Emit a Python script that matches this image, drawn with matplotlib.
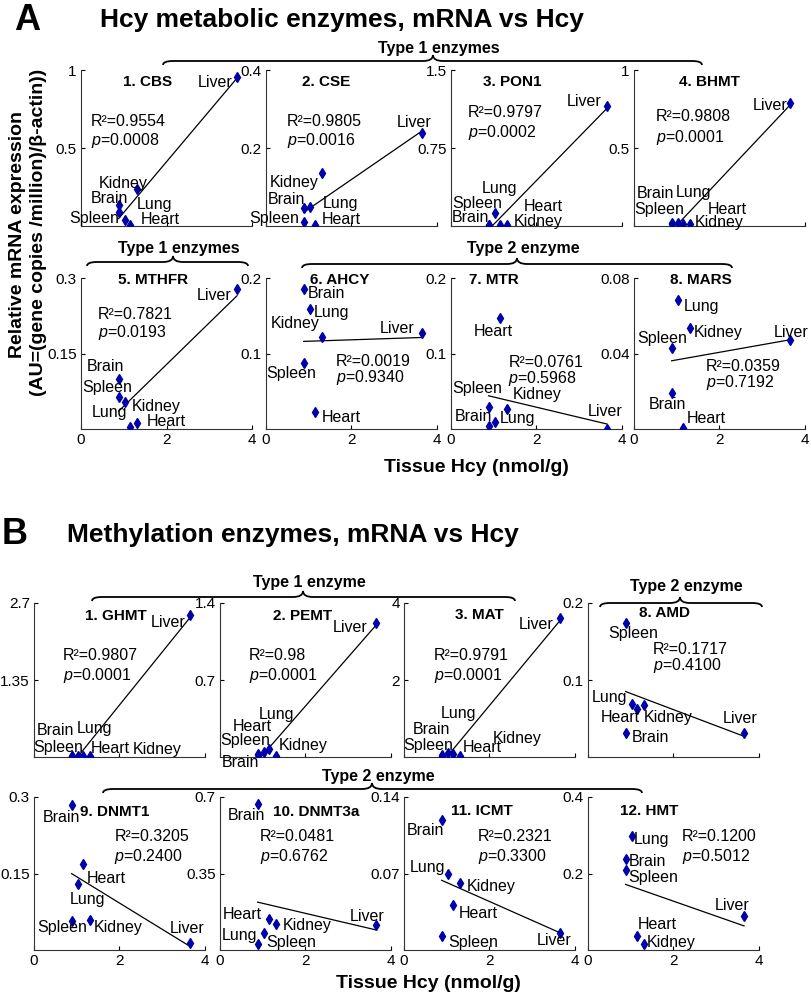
import numpy as np
import matplotlib
matplotlib.use('Agg')
import matplotlib.pyplot as plt
from matplotlib.path import Path
from matplotlib.patches import PathPatch

plt.rcParams['font.family'] = ['Liberation Sans', 'DejaVu Sans']
plt.rcParams['mathtext.fontset'] = 'custom'
plt.rcParams['mathtext.rm'] = 'Liberation Sans'
plt.rcParams['mathtext.it'] = 'Liberation Sans:italic'

# ---- data (tissue Hcy vs relative mRNA) ----
tissues = ['Brain', 'Spleen', 'Lung', 'Heart', 'Kidney', 'Liver']
hcy = [0.9, 0.88, 1.02, 1.15, 1.3, 3.65]

cbs = [0.135, 0.09, 0.04, 0.005, 0.237, 0.955]
cse = [0.046, 0.01, 0.049, 0.003, 0.136, 0.238]
pon1 = [0.01, 0.01, 0.125, 0.01, 0.01, 1.154]
bhmt = [0.02, 0.015, 0.02, 0.01, 0.015, 0.79]
mthfr = [0.1, 0.064, 0.054, 0.004, 0.012, 0.278]
ahcy = [0.185, 0.088, 0.159, 0.022, 0.122, 0.127]
mtr = [0.004, 0.029, 0.009, 0.147, 0.026, 0.0]
mars = [0.019, 0.043, 0.0684, 0.0005, 0.0535, 0.047]
ghmt = [0.02, 0.02, 0.02, 0.02, 0.02, 2.49]
pemt = [0.02, 0.03, 0.05, 0.07, 0.01, 1.22]
mat = [0.02, 0.05, 0.1, 0.08, 0.02, 3.61]
amd = [0.031, 0.174, 0.069, 0.062, 0.067, 0.031]
dnmt1 = [0.284, 0.057, 0.129, 0.169, 0.059, 0.014]
dnmt3a = [0.668, 0.027, 0.078, 0.142, 0.119, 0.114]
icmt = [0.119, 0.013, 0.070, 0.041, 0.061, 0.016]
hmt = [0.238, 0.209, 0.298, 0.037, 0.016, 0.089]

names = ['1. CBS', '2. CSE', '3. PON1', '4. BHMT', '5. MTHFR', '6. AHCY', '7. MTR', '8. MARS',
         '1. GHMT', '2. PEMT', '3. MAT', '8. AMD', '9. DNMT1', '10. DNMT3a', '11. ICMT', '12. HMT']
values = [cbs, cse, pon1, bhmt, mthfr, ahcy, mtr, mars,
          ghmt, pemt, mat, amd, dnmt1, dnmt3a, icmt, hmt]
r2 = ['0.9554', '0.9805', '0.9797', '0.9808', '0.7821', '0.0019', '0.0761', '0.0359',
      '0.9807', '0.98', '0.9791', '0.1717', '0.3205', '0.0481', '0.2321', '0.1200']
pval = ['0.0008', '0.0016', '0.0002', '0.0001', '0.0193', '0.9340', '0.5968', '0.7192',
        '0.0001', '0.0001', '0.0001', '0.4100', '0.2400', '0.6762', '0.3300', '0.5012']
ymax = [1, 0.4, 1.5, 1, 0.3, 0.2, 0.2, 0.08, 2.7, 1.4, 4, 0.2, 0.3, 0.7, 0.14, 0.4]
ylab_mid = ['0.5', '0.2', '0.75', '0.5', '0.15', '0.1', '0.1', '0.04',
            '1.35', '0.7', '2', '0.1', '0.15', '0.35', '0.07', '0.2']
ylab_top = ['1', '0.4', '1.5', '1', '0.3', '0.2', '0.2', '0.08',
            '2.7', '1.4', '4', '0.2', '0.3', '0.7', '0.14', '0.4']

# ---- layout (image pixels, top-left origin) ----
W, H = 812, 994
lefts_a = [81, 266, 451, 634]
lefts_b = [34, 220, 404, 588]
rows = [(70, 226), (278, 429), (603, 757), (797, 950)]
boxes = []
for r in range(4):
    ls = lefts_a if r < 2 else lefts_b
    for l in ls:
        boxes.append((l, rows[r][0], 171, rows[r][1] - rows[r][0]))
bottom_row = [False] * 4 + [True] * 4 + [False] * 4 + [True] * 4

title_pos = [(0.39, 0.92), (0.35, 0.92), (0.36, 0.92), (0.44, 0.92),
             (0.42, 0.99), (0.43, 0.99), (0.25, 0.99), (0.39, 0.99),
             (0.48, 0.915), (0.48, 0.915), (0.44, 0.92), (0.45, 0.935),
             (0.47, 0.90), (0.56, 0.90), (0.455, 0.91), (0.36, 0.91)]
# (x, y of R2 line, y of p line) in axes fraction
stat_pos = [(0.058, 0.667, 0.551), (0.123, 0.667, 0.551), (0.10, 0.73, 0.60), (0.129, 0.70, 0.57),
            (0.10, 0.755, 0.64), (0.41, 0.45, 0.344), (0.335, 0.44, 0.335), (0.42, 0.415, 0.31),
            (0.169, 0.656, 0.526), (0.169, 0.656, 0.526), (0.175, 0.656, 0.526), (0.378, 0.695, 0.595),
            (0.47, 0.74, 0.61), (0.233, 0.74, 0.61), (0.43, 0.74, 0.61), (0.55, 0.74, 0.61)]
# label offsets in pixels, tissue order Brain, Spleen, Lung, Heart, Kidney, Liver
label_off = [
    [(-10, 6), (-24, -7), (30, 15), (30, 6), (-13, 6), (-22, -5)],
    [(-18, 9), (-29, 4), (31, 3), (26, 5), (-27, -10), (-8, 11)],
    [(-19, 7), (-11, 21), (5, 24), (43, 18), (32, 3), (-23, 4)],
    [(-17, 29), (-12, 14), (16, 30), (44, 15), (30, 1), (-20, -3)],
    [(-14, 12), (-11, 9), (-15, -11), (36, 5), (20, 16), (-23, -6)],
    [(22, -4), (-12, -11), (22, -4), (26, -5), (-26, 13), (-25, 5)],
    [(-16, 9), (-11, 19), (23, 4), (-7, -13), (31, 15), (-2, 18)],
    [(-5, -11), (-9, 9), (24, -7), (23, 10), (29, -4), (1, 8)],
    [(-17, 25), (-13, 8), (17, 27), (27, 7), (68, 6), (-22, -8)],
    [(-18, -8), (-12, 13), (13, 37), (-17, 23), (28, 10), (-26, -5)],
    [(-11, 27), (-13, 10), (11, 40), (29, 6), (58, 18), (-24, -6)],
    [(24, -4), (8, -10), (-22, 6), (-17, -8), (25, -12), (-4, 15)],
    [(-11, -12), (-9, -7), (10, -15), (23, -15), (29, -8), (-3, 14)],
    [(-12, -12), (34, 2), (-24, -3), (-27, 4), (32, -2), (-9, 9)],
    [(-17, -11), (32, -7), (-20, 6), (25, -8), (32, -3), (-6, -8)],
    [(21, -3), (28, -7), (20, -3), (20, 11), (28, 1), (-12, 10)],
]

# braces: x0, x1, tip x, baseline y, text, text y
braces = [(163, 702, 433, 61, 'Type 1 enzymes', 48),
          (87, 248, 173, 262, 'Type 1 enzymes', 249),
          (302, 732, 517, 264, 'Type 2 enzyme', 249),
          (92, 515, 303, 597, 'Type 1 enzyme', 582),
          (600, 762, 680, 603, 'Type 2 enzyme', 587),
          (103, 642, 372, 789, 'Type 2 enzyme', 776)]

marker_color = '#0000a8'
fs = 11.5


def fx(x):
    return x / W


def fy(y):
    return 1 - y / H


def draw_brace(fig, x0, x1, xt, y, e=4, t=6, r=10):
    pts = [(x0, y + e), (x0, y), (x0 + r, y), (xt - r, y), (xt, y), (xt, y - t),
           (xt, y), (xt + r, y), (x1 - r, y), (x1, y), (x1, y + e)]
    codes = [Path.MOVETO, Path.CURVE3, Path.CURVE3, Path.LINETO, Path.CURVE3, Path.CURVE3,
             Path.CURVE3, Path.CURVE3, Path.LINETO, Path.CURVE3, Path.CURVE3]
    verts = [(fx(a), fy(b)) for a, b in pts]
    fig.patches.append(PathPatch(Path(verts, codes), transform=fig.transFigure,
                                 fill=False, lw=1.3, color='black'))


fig = plt.figure(figsize=(W / 100, H / 100), dpi=100)

for i in range(16):
    l, t, w, h = boxes[i]
    ax = fig.add_axes([fx(l), fy(t + h), w / W, h / H])
    ys = values[i]
    ax.plot(hcy, ys, 'd', color=marker_color, ms=5.5, zorder=3)
    k, b = np.polyfit(hcy, ys, 1)
    xs = np.array([min(hcy), max(hcy)])
    ax.plot(xs, k * xs + b, color='black', lw=0.9)
    for j, name in enumerate(tissues):
        ax.annotate(name, (hcy[j], ys[j]), xytext=label_off[i][j], textcoords='offset pixels',
                    ha='center', va='center', fontsize=fs, annotation_clip=False)
    ax.set_xlim(0, 4)
    ax.set_ylim(0, ymax[i])
    ax.set_xticks([0, 2, 4])
    if bottom_row[i]:
        ax.set_xticklabels(['0', '2', '4'])
    else:
        ax.set_xticklabels([])
    ax.set_yticks([ymax[i] / 2, ymax[i]])
    ax.set_yticklabels([ylab_mid[i], ylab_top[i]])
    ax.tick_params(direction='in', length=3, labelsize=11, pad=3)
    ax.spines['top'].set_visible(False)
    ax.spines['right'].set_visible(False)
    for s in ['left', 'bottom']:
        ax.spines[s].set_linewidth(0.8)
        ax.spines[s].set_color('#333333')
    ax.patch.set_alpha(0)
    tx, ty = title_pos[i]
    ax.text(tx, ty, names[i], transform=ax.transAxes, ha='center', va='center',
            fontsize=11, fontweight='bold')
    sx, sy1, sy2 = stat_pos[i]
    ax.text(sx, sy1, 'R\u00b2=' + r2[i], transform=ax.transAxes, ha='left', va='center', fontsize=fs)
    ax.text(sx, sy2, r'$\mathit{p}$=' + pval[i], transform=ax.transAxes, ha='left', va='center',
            fontsize=fs)

for x0, x1, xt, y, label, ty in braces:
    draw_brace(fig, x0, x1, xt, y)
    fig.text(fx(xt + 6), fy(ty), label, ha='center', va='center', fontsize=fs, fontweight='bold')

fig.text(fx(14), fy(20), 'A', ha='left', va='center', fontsize=26, fontweight='bold')
fig.text(fx(100), fy(20), 'Hcy metabolic enzymes, mRNA vs Hcy', ha='left', va='center',
         fontsize=19, fontweight='bold')
fig.text(fx(2), fy(535), 'B', ha='left', va='center', fontsize=26, fontweight='bold')
fig.text(fx(67), fy(535), 'Methylation enzymes, mRNA vs Hcy', ha='left', va='center',
         fontsize=19, fontweight='bold')

fig.text(fx(18), fy(235), 'Relative mRNA expression', rotation=90, ha='center', va='center',
         fontsize=14, fontweight='bold')
fig.text(fx(39), fy(232), '(AU=(gene copies /million)/\u03b2-actin))', rotation=90, ha='center',
         va='center', fontsize=14, fontweight='bold')
fig.text(fx(476), fy(467), 'Tissue Hcy (nmol/g)', ha='center', va='center', fontsize=14,
         fontweight='bold')
fig.text(fx(428), fy(983), 'Tissue Hcy (nmol/g)', ha='center', va='center', fontsize=14,
         fontweight='bold')

fig.savefig('out.png', dpi=100)
